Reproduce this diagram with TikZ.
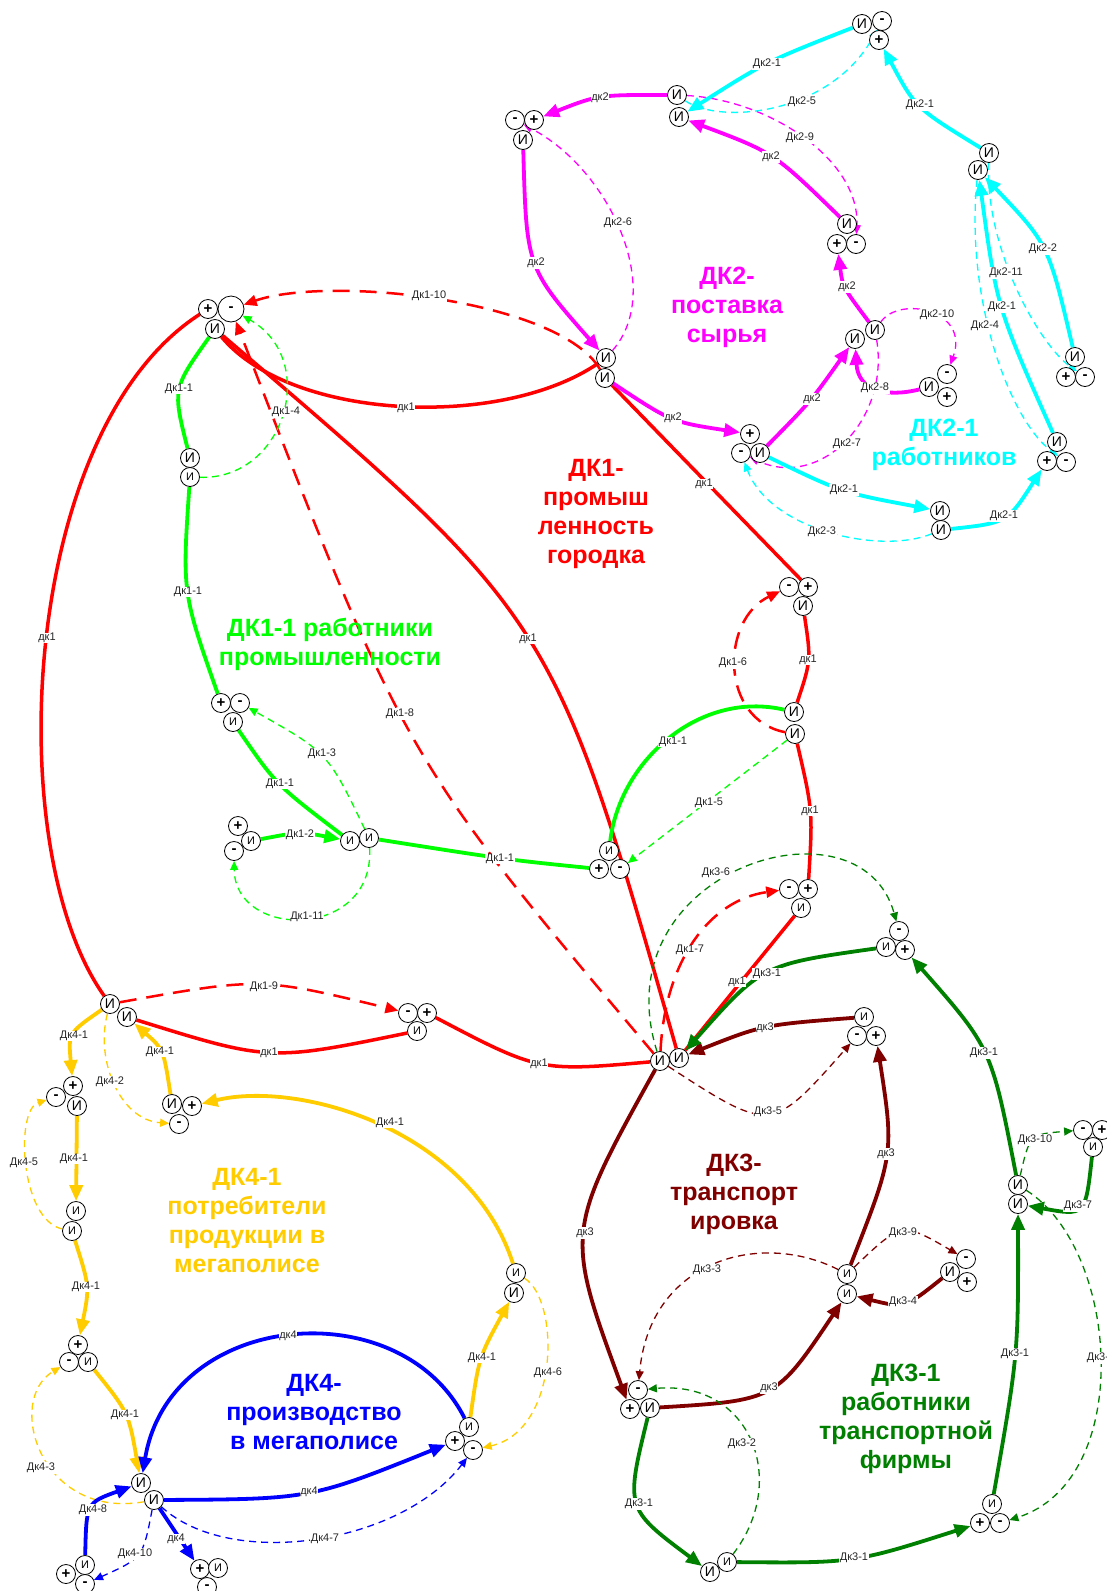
\documentclass[tikz,border=0pt]{standalone}
\usepackage{fontspec}
\setmainfont{Liberation Sans}
\usetikzlibrary{arrows.meta,calc}
\pgfdeclarelayer{back}\pgfdeclarelayer{edges}
\pgfsetlayers{back,edges,main}
\definecolor{cmag}{HTML}{FF00FF}
\definecolor{ccyan}{HTML}{00FFFF}
\definecolor{clime}{HTML}{00FF00}
\definecolor{cdred}{HTML}{800000}
\definecolor{cdgreen}{HTML}{008000}
\definecolor{cyel}{HTML}{FFCC00}
\definecolor{cblue}{HTML}{0000FF}
\definecolor{cred}{HTML}{FF0000}
\newcommand\ecv[4]{\draw[#1] (#2) .. controls ($1.33333*(#4)-0.166667*(#2)-0.166667*(#3)$) .. (#3);}
\tikzset{
 ci/.style={circle,draw=black,line width=0.8pt,fill=white,inner sep=0pt,minimum size=19pt,font=\fontsize{14}{14}\selectfont},
 cis/.style={ci,font=\fontsize{11}{11}\selectfont},
 cip/.style={ci,font=\fontsize{15}{15}\selectfont\bfseries},
 lbl/.style={fill=white,inner sep=0.6pt,font=\fontsize{11}{12}\selectfont,text=black!85},
 ttl/.style={align=center,font=\fontsize{25}{29}\selectfont\bfseries},
 thk/.style={line width=3.8pt},
 bigtip/.style={-{Triangle[length=16pt,width=13pt]}},
 thn/.style={line width=1.3pt,dash pattern=on 7pt off 5pt,-{Triangle[length=9pt,width=8pt]}},
 eR/.style={draw=cred,line width=3.5pt},
 eRd/.style={draw=cred,line width=2.5pt,dash pattern=on 17pt off 10pt,-{Triangle[length=13pt,width=11pt]}},
 eL/.style={draw=clime,thk},
 eLa/.style={eL,bigtip},
 eLd/.style={draw=clime,thn},
 eM/.style={draw=cmag,thk,bigtip}, eMd/.style={draw=cmag,thn},
 eC/.style={draw=ccyan,thk,bigtip}, eCd/.style={draw=ccyan,thn},
 eD/.style={draw=cdred,thk,bigtip}, eDd/.style={draw=cdred,thn},
 eG/.style={draw=cdgreen,thk,bigtip}, eGd/.style={draw=cdgreen,thn},
 eY/.style={draw=cyel,thk,bigtip}, eYd/.style={draw=cyel,thn},
 eB/.style={draw=cblue,thk,bigtip}, eBd/.style={draw=cblue,thn},
}
\begin{document}
\begin{tikzpicture}[x=1pt,y=-1pt]
\useasboundingbox (0,0) rectangle (1107,1591);
\begin{pgfonlayer}{back}
\fill[white] (0,0) rectangle (1107,1591);
\end{pgfonlayer}
% ---------- nodes ----------
\node[cip] (a1) at (515,120) {-};
\node[cip] (a2) at (534,120) {+};
\node[ci] (a3) at (523,140) {И};
\node[ci] (b1) at (677,95) {И};
\node[ci] (b2) at (679,117) {И};
\node[ci] (tc1) at (862,24) {И};
\node[cip] (tc2) at (882,21) {-};
\node[cip] (tc3) at (879,40) {+};
\node[ci] (c1) at (989,153) {И};
\node[ci] (c2) at (978,170) {И};
\node[ci] (d1) at (847,224) {И};
\node[cip] (d2) at (837,244) {+};
\node[cip] (d3) at (856,244) {-};
\node[ci] (e1) at (875,330) {И};
\node[ci] (e2) at (855,339) {И};
\node[ci] (f1) at (929,387) {И};
\node[cip] (f2) at (947,374) {-};
\node[cip] (f3) at (947,397) {+};
\node[ci] (g1) at (1075,357) {И};
\node[cip] (g2) at (1066,377) {+};
\node[cip] (g3) at (1085,377) {-};
\node[ci] (h1) at (1057,442) {И};
\node[cip] (h2) at (1047,461) {+};
\node[cip] (h3) at (1066,462) {-};
\node[ci] (i1) at (940,511) {И};
\node[ci] (i2) at (941,530) {И};
\node[ci] (j1) at (606,358) {И};
\node[ci] (j2) at (605,378) {И};
\node[cip] (k1) at (750,434) {+};
\node[cip] (k2) at (741,453) {-};
\node[ci] (k3) at (760,453) {И};
\node[cip] (l1) at (208,309) {+};
\node[cip,minimum size=26pt] (l2) at (231,309) {-};
\node[ci] (l3) at (215,329) {И};
\node[ci] (m1) at (190,458) {И};
\node[cis] (m2) at (190,477) {И};
\node[cip] (n1) at (789,587) {-};
\node[cip] (n2) at (808,587) {+};
\node[ci] (n3) at (803,606) {И};
\node[ci] (o1) at (794,712) {И};
\node[ci] (o2) at (795,734) {И};
\node[cip] (pp1) at (221,703) {+};
\node[cip] (pp2) at (240,703) {-};
\node[cis] (pp3) at (233,722) {И};
\node[cis] (q1) at (350,841) {И};
\node[cis] (q2) at (369,838) {И};
\node[cip] (rr1) at (238,826) {+};
\node[cis] (rr2) at (251,841) {И};
\node[cip] (rr3) at (234,851) {-};
\node[cis] (p1) at (609,851) {И};
\node[cip] (p2) at (599,869) {+};
\node[cip] (p3) at (620,869) {-};
\node[cip] (s1) at (789,889) {-};
\node[cip] (s2) at (808,889) {+};
\node[cis] (s3) at (801,908) {И};
\node[ci] (r1) at (660,1061) {И};
\node[ci] (r2) at (679,1058) {И};
\node[ci] (u1) at (110,1004) {И};
\node[ci] (u2) at (127,1017) {И};
\node[cip] (v1) at (408,1013) {-};
\node[cip] (v2) at (427,1013) {+};
\node[cis] (v3) at (417,1031) {И};
\node[cip] (gs1) at (899,931) {-};
\node[cis] (gs2) at (886,947) {И};
\node[cip] (gs3) at (905,950) {+};
\node[cis] (t1) at (864,1017) {И};
\node[cip] (t2) at (857,1036) {-};
\node[cip] (t3) at (876,1036) {+};
\node[cip] (w1) at (73,1086) {+};
\node[cip] (w2) at (56,1097) {-};
\node[ci] (w3) at (77,1106) {И};
\node[ci] (x1) at (172,1104) {И};
\node[cip] (x2) at (192,1106) {+};
\node[cip] (x3) at (179,1124) {-};
\node[cis] (y1) at (76,1211) {И};
\node[cis] (y2) at (72,1231) {И};
\node[cip] (z1) at (78,1345) {+};
\node[cip] (z2) at (69,1362) {-};
\node[cis] (z3) at (88,1362) {И};
\node[ci] (aa1) at (141,1483) {И};
\node[ci] (aa2) at (154,1500) {И};
\node[cis] (bb1) at (85,1565) {И};
\node[cip] (bb2) at (66,1574) {+};
\node[cip] (bb3) at (85,1584) {-};
\node[cip] (cc1) at (200,1569) {+};
\node[cis] (cc2) at (218,1568) {И};
\node[cip] (cc3) at (207,1587) {-};
\node[cis] (dd1) at (516,1273) {И};
\node[ci] (dd2) at (514,1293) {И};
\node[cis] (ee1) at (469,1427) {И};
\node[cip] (ee2) at (455,1441) {+};
\node[cip] (ee3) at (473,1450) {-};
\node[cis] (ff1) at (847,1274) {И};
\node[cis] (ff2) at (847,1294) {И};
\node[cip] (gg1) at (966,1259) {-};
\node[ci] (gg2) at (950,1272) {И};
\node[cip] (gg3) at (967,1282) {+};
\node[cip] (hh1) at (638,1390) {-};
\node[cip] (hh2) at (630,1409) {+};
\node[ci] (hh3) at (650,1408) {И};
\node[ci] (ii1) at (710,1572) {И};
\node[cis] (ii2) at (727,1562) {И};
\node[cis] (jj1) at (992,1504) {И};
\node[cip] (jj2) at (980,1523) {+};
\node[cip] (jj3) at (1000,1523) {-};
\node[ci] (kk1) at (1018,1185) {И};
\node[ci] (kk2) at (1018,1204) {И};
\node[cip] (ll1) at (1083,1130) {-};
\node[cip] (ll2) at (1102,1130) {+};
\node[cis] (ll3) at (1093,1147) {И};
% ---------- edges ----------
\begin{pgfonlayer}{edges}
% red dk1
\draw[eR] (l1) .. controls (20,430) and (0,850) .. (u1);
\ecv{eR}{u2}{v3}{270,1052}
\ecv{eR}{v2}{r1}{540,1063}
\draw[eR] (l3) .. controls (290,420) and (500,430) .. (j1);
\ecv{eR}{l3}{r2}{527,637}
\draw[eR] (j2) -- (n2);
\ecv{eR}{n3}{o1}{808,660}
\ecv{eR}{o2}{s2}{810,811}
\draw[eR] (s3) -- (r2);
\draw[eRd] (j2) .. controls (560,300) and (330,275) .. (l2);
\ecv{eRd}{r1}{l2}{415,740}
\draw[eRd] (r1) .. controls (665,960) and (710,900) .. (s1);
\draw[eRd] (o2) .. controls (720,720) and (720,620) .. (n1);
\ecv{eRd}{u1}{v1}{260,985}
% lime
\ecv{eL}{l3}{m1}{180,390}
\ecv{eL}{m2}{pp1}{188,592}
\ecv{eL}{pp3}{q1}{280,784}
\ecv{eLa}{rr2}{q1}{300,834}
\ecv{eL}{q2}{p2}{500,858}
\draw[eL] (o1) .. controls (700,690) and (620,760) .. (p1);
\draw[eLd] (m2) .. controls (285,480) and (320,360) .. (l2);
\ecv{eLd}{q2}{pp2}{322,757}
\draw[eLd] (q2) .. controls (375,940) and (235,940) .. (rr3);
\draw[eLd] (o2) -- (p3);
% magenta
\ecv{eM}{b1}{a2}{600,98}
\ecv{eM}{a3}{j1}{536,263}
\ecv{eM}{j2}{k1}{673,418}
\ecv{eM}{k3}{e2}{810,400}
\ecv{eM}{e1}{d2}{846,287}
\ecv{eM}{d1}{b2}{771,157}
\draw[eM] (f1) .. controls (885,398) and (858,390) .. (e2);
\draw[eMd] (j1) .. controls (665,290) and (610,170) .. (a1);
\draw[eMd] (b1) .. controls (770,100) and (860,160) .. (d3);
\draw[eMd] (e1) .. controls (900,295) and (970,310) .. (f2);
\draw[eMd] (e1) .. controls (890,420) and (820,490) .. (k2);
% cyan
\ecv{eC}{tc1}{b2}{767,64}
\ecv{eC}{c1}{tc3}{920,105}
\ecv{eC}{g1}{c2}{1043,249}
\ecv{eC}{h1}{c2}{1002,307}
\ecv{eC}{i2}{h2}{1004,516}
\ecv{eC}{k3}{i1}{844,490}
\draw[eCd] (b1) .. controls (720,125) and (830,115) .. (tc2);
\draw[eCd] (i2) .. controls (880,555) and (770,530) .. (k2);
\draw[eCd] (c2) .. controls (965,300) and (1010,420) .. (h3);
\draw[eCd] (c1) .. controls (985,250) and (1040,345) .. (g3);
% dark red
\ecv{eD}{r1}{hh2}{585,1233}
\ecv{eD}{hh3}{ff2}{769,1388}
\ecv{eD}{ff1}{t3}{886,1154}
\ecv{eD}{t1}{r2}{765,1028}
\ecv{eD}{gg2}{ff2}{903,1302}
\ecv{eDd}{r1}{t2}{768,1112}
\draw[eDd] (ff1) .. controls (760,1230) and (650,1260) .. (hh1);
\ecv{eDd}{ff1}{gg1}{903,1233}
% dark green
\ecv{eG}{gs2}{r2}{767,974}
\ecv{eG}{kk1}{gs3}{984,1053}
\ecv{eG}{hh3}{ii1}{639,1504}
\ecv{eG}{ii2}{jj2}{854,1558}
\ecv{eG}{jj1}{kk2}{1015,1354}
\ecv{eG}{ll3}{kk2}{1078,1206}
\draw[eGd] (r1) .. controls (600,870) and (860,790) .. (gs1);
\draw[eGd] (ii2) .. controls (790,1480) and (750,1380) .. (hh1);
\ecv{eGd}{kk1}{ll1}{1035,1140}
\draw[eGd] (kk1) .. controls (1120,1250) and (1135,1480) .. (jj3);
% yellow
\ecv{eY}{u1}{w1}{74,1036}
\ecv{eY}{x1}{u2}{160,1052}
\draw[eY] (dd1) .. controls (470,1130) and (300,1080) .. (x2);
\draw[eY] (w3) -- (y1);
\ecv{eY}{y2}{z1}{86,1287}
\ecv{eY}{z3}{aa1}{125,1415}
\ecv{eY}{ee1}{dd2}{482,1358}
\draw[eYd] (u1) .. controls (95,1060) and (120,1120) .. (x3);
\draw[eYd] (y2) .. controls (20,1220) and (15,1110) .. (w2);
\draw[eYd] (aa2) .. controls (40,1520) and (5,1400) .. (z2);
\draw[eYd] (dd1) .. controls (560,1300) and (560,1430) .. (ee3);
% blue
\draw[eB] (ee1) .. controls (400,1290) and (170,1310) .. (aa1);
\ecv{eB}{aa2}{ee2}{309,1492}
\ecv{eB}{bb1}{aa1}{93,1508}
\draw[eB] (aa2) -- (cc1);
\draw[eBd] (aa2) .. controls (230,1570) and (400,1545) .. (ee3);
\ecv{eBd}{aa2}{bb3}{137,1554}
\end{pgfonlayer}
% ---------- labels ----------
\node[lbl] (t01) at (47,638) {дк1};
\node[lbl] (t02) at (269,1053) {дк1};
\node[lbl] (t03) at (539,1064) {дк1};
\node[lbl] (t04) at (406,408) {дк1};
\node[lbl] (t05) at (528,639) {дк1};
\node[lbl] (t06) at (704,484) {дк1};
\node[lbl] (t07) at (808,660) {дк1};
\node[lbl] (t08) at (810,811) {дк1};
\node[lbl] (t09) at (737,982) {дк1};
\node[lbl] (t10) at (429,296) {Дк1-10};
\node[lbl] (t11) at (400,714) {Дк1-8};
\node[lbl] (t12) at (690,950) {Дк1-7};
\node[lbl] (t13) at (733,663) {Дк1-6};
\node[lbl] (t14) at (264,987) {Дк1-9};
\node[lbl] (t15) at (179,389) {Дк1-1};
\node[lbl] (t16) at (188,592) {Дк1-1};
\node[lbl] (t17) at (280,784) {Дк1-1};
\node[lbl] (t18) at (300,835) {Дк1-2};
\node[lbl] (t19) at (500,859) {Дк1-1};
\node[lbl] (t20) at (673,742) {Дк1-1};
\node[lbl] (t21) at (286,412) {Дк1-4};
\node[lbl] (t22) at (322,754) {Дк1-3};
\node[lbl] (t23) at (307,917) {Дк1-11};
\node[lbl] (t24) at (709,803) {Дк1-5};
\node[lbl] (t25) at (600,98) {дк2};
\node[lbl] (t26) at (536,263) {дк2};
\node[lbl] (t27) at (673,418) {дк2};
\node[lbl] (t28) at (812,399) {дк2};
\node[lbl] (t29) at (847,287) {дк2};
\node[lbl] (t30) at (771,157) {дк2};
\node[lbl] (t31) at (875,388) {Дк2-8};
\node[lbl] (t32) at (618,223) {Дк2-6};
\node[lbl] (t33) at (800,138) {Дк2-9};
\node[lbl] (t34) at (937,315) {Дк2-10};
\node[lbl] (t35) at (847,444) {Дк2-7};
\node[lbl] (t36) at (767,64) {Дк2-1};
\node[lbl] (t37) at (920,105) {Дк2-1};
\node[lbl] (t38) at (1043,249) {Дк2-2};
\node[lbl] (t39) at (1002,307) {Дк2-1};
\node[lbl] (t40) at (1004,516) {Дк2-1};
\node[lbl] (t41) at (844,490) {Дк2-1};
\node[lbl] (t42) at (802,102) {Дк2-5};
\node[lbl] (t43) at (822,532) {Дк2-3};
\node[lbl] (t44) at (985,326) {Дк2-4};
\node[lbl] (t45) at (1006,273) {Дк2-11};
\node[lbl] (t46) at (585,1233) {дк3};
\node[lbl] (t47) at (769,1388) {дк3};
\node[lbl] (t48) at (886,1154) {дк3};
\node[lbl] (t49) at (765,1028) {дк3};
\node[lbl] (t50) at (903,1302) {Дк3-4};
\node[lbl] (t51) at (768,1112) {Дк3-5};
\node[lbl] (t52) at (707,1270) {Дк3-3};
\node[lbl] (t53) at (903,1233) {Дк3-9};
\node[lbl] (t54) at (767,974) {Дк3-1};
\node[lbl] (t55) at (984,1053) {Дк3-1};
\node[lbl] (t56) at (639,1504) {Дк3-1};
\node[lbl] (t57) at (854,1558) {Дк3-1};
\node[lbl] (t58) at (1015,1354) {Дк3-1};
\node[lbl] (t59) at (1078,1206) {Дк3-7};
\node[lbl] (t60) at (716,873) {Дк3-6};
\node[lbl] (t61) at (742,1444) {Дк3-2};
\node[lbl] (t62) at (1035,1140) {Дк3-10};
\node[lbl] (t63) at (1101,1358) {Дк3-8};
\node[lbl] (t64) at (74,1036) {Дк4-1};
\node[lbl] (t65) at (160,1052) {Дк4-1};
\node[lbl] (t66) at (390,1123) {Дк4-1};
\node[lbl] (t67) at (74,1159) {Дк4-1};
\node[lbl] (t68) at (86,1287) {Дк4-1};
\node[lbl] (t69) at (125,1415) {Дк4-1};
\node[lbl] (t70) at (482,1358) {Дк4-1};
\node[lbl] (t71) at (110,1082) {Дк4-2};
\node[lbl] (t72) at (24,1163) {Дк4-5};
\node[lbl] (t73) at (41,1468) {Дк4-3};
\node[lbl] (t74) at (548,1373) {Дк4-6};
\node[lbl] (t75) at (288,1336) {дк4};
\node[lbl] (t76) at (309,1492) {дк4};
\node[lbl] (t77) at (93,1510) {Дк4-8};
\node[lbl] (t78) at (176,1539) {дк4};
\node[lbl] (t79) at (325,1539) {Дк4-7};
\node[lbl] (t80) at (135,1554) {Дк4-10};
% ---------- titles ----------
\node[ttl,text=cmag] (T2) at (727,307) {ДК2-\\поставка\\сырья};
\node[ttl,text=cred] (T1) at (596,514) {ДК1-\\промыш\\ленность\\городка};
\node[ttl,text=clime] (T11) at (330,644) {ДК1-1 работники\\промышленности};
\node[ttl,text=ccyan] (T21) at (944,445) {ДК2-1\\работников};
\node[ttl,text=cyel] (T41) at (247,1221) {ДК4-1\\потребители\\продукции в\\мегаполисе};
\node[ttl,text=cblue] (T4) at (314,1412) {ДК4-\\производство\\в мегаполисе};
\node[ttl,text=cdred] (T3) at (734,1194) {ДК3-\\транспорт\\ировка};
\node[ttl,text=cdgreen] (T31) at (906,1419) {ДК3-1\\работники\\транспортной\\фирмы};
\end{tikzpicture}
\end{document}
